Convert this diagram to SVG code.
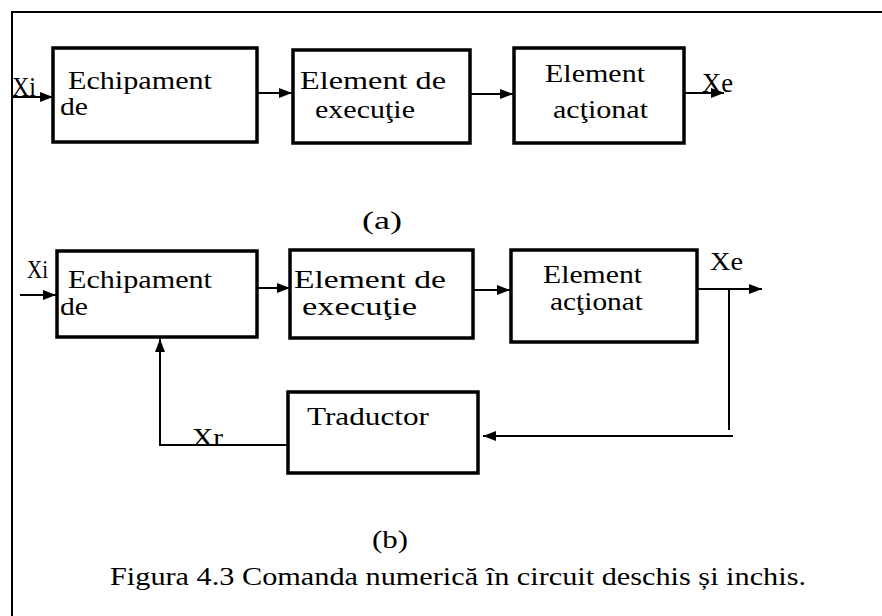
<svg xmlns="http://www.w3.org/2000/svg" width="882" height="616" viewBox="0 0 882 616">
<style>
.box{fill:#fff;stroke:#000;stroke-width:3.5}
.ln{fill:none;stroke:#000;stroke-width:2}
.t{font-family:"Liberation Serif","Times New Roman",serif;font-size:26px;fill:#000}
.s{font-family:"Liberation Serif","Times New Roman",serif;font-size:25px;fill:#000}
</style>
<defs>
<marker id="ah" markerUnits="userSpaceOnUse" markerWidth="13" markerHeight="10" refX="13" refY="5" orient="auto">
<path d="M0,0 L13,5 L0,10 z" fill="#000"/>
</marker>
</defs>
<rect width="882" height="616" fill="#fff"/>
<path class="ln" d="M12,616 L12,12 L882,12"/>

<g id="connectors">
<line class="ln" x1="12" y1="97" x2="53" y2="97" marker-end="url(#ah)"/>
<line class="ln" x1="257" y1="93" x2="292" y2="93" marker-end="url(#ah)"/>
<line class="ln" x1="470" y1="94" x2="513" y2="94" marker-end="url(#ah)"/>
<line class="ln" x1="684" y1="93" x2="724" y2="93" marker-end="url(#ah)"/>
<line class="ln" x1="20" y1="295" x2="56" y2="295" marker-end="url(#ah)"/>
<line class="ln" x1="257" y1="288" x2="290" y2="288" marker-end="url(#ah)"/>
<line class="ln" x1="473" y1="290" x2="510" y2="290" marker-end="url(#ah)"/>
<line class="ln" x1="697" y1="289" x2="762" y2="289" marker-end="url(#ah)"/>
<line class="ln" x1="729" y1="289" x2="729" y2="430"/>
<line class="ln" x1="733" y1="436" x2="483" y2="436" marker-end="url(#ah)"/>
<path class="ln" d="M288,445 L160,445 L160,339" marker-end="url(#ah)"/>
</g>

<g id="a_echipament">
<rect class="box" x="53" y="48" width="204" height="94"/>
<text class="t" x="68" y="89" textLength="144" lengthAdjust="spacingAndGlyphs">Echipament</text>
<text class="t" x="60" y="115" textLength="28" lengthAdjust="spacingAndGlyphs">de</text>
</g>
<g id="a_executie">
<rect class="box" x="293" y="50" width="177" height="93"/>
<text class="t" x="300" y="89" textLength="146" lengthAdjust="spacingAndGlyphs">Element de</text>
<text class="t" x="315" y="118" textLength="100" lengthAdjust="spacingAndGlyphs">execuţie</text>
</g>
<g id="a_actionat">
<rect class="box" x="514" y="48" width="170" height="95"/>
<text class="t" x="545" y="82" textLength="100" lengthAdjust="spacingAndGlyphs">Element</text>
<text class="t" x="553" y="118" textLength="95" lengthAdjust="spacingAndGlyphs">acţionat</text>
</g>
<text class="t" x="12" y="96" style="font-size:28px" textLength="24" lengthAdjust="spacingAndGlyphs">Xi</text>
<text class="t" x="702" y="92" style="font-size:28px" textLength="31" lengthAdjust="spacingAndGlyphs">Xe</text>
<text class="t" x="362" y="229" textLength="40" lengthAdjust="spacingAndGlyphs">(a)</text>

<g id="b_echipament">
<rect class="box" x="57" y="251" width="200" height="86"/>
<text class="t" x="68" y="288" textLength="144" lengthAdjust="spacingAndGlyphs">Echipament</text>
<text class="t" x="60" y="315" textLength="28" lengthAdjust="spacingAndGlyphs">de</text>
</g>
<g id="b_executie">
<rect class="box" x="290" y="250" width="183" height="88"/>
<text class="t" x="294" y="288" textLength="152" lengthAdjust="spacingAndGlyphs">Element de</text>
<text class="t" x="302" y="315" textLength="115" lengthAdjust="spacingAndGlyphs">execuţie</text>
</g>
<g id="b_actionat">
<rect class="box" x="511" y="250" width="186" height="92"/>
<text class="t" x="543" y="283" textLength="99" lengthAdjust="spacingAndGlyphs">Element</text>
<text class="t" x="550" y="310" textLength="93" lengthAdjust="spacingAndGlyphs">acţionat</text>
</g>
<g id="b_traductor">
<rect class="box" x="288" y="392" width="190" height="81"/>
<text class="t" x="307" y="425" textLength="122" lengthAdjust="spacingAndGlyphs">Traductor</text>
</g>
<text class="s" x="27" y="278" textLength="21" lengthAdjust="spacingAndGlyphs">Xi</text>
<text class="s" x="710" y="270" textLength="33" lengthAdjust="spacingAndGlyphs">Xe</text>
<text class="s" x="192" y="446" textLength="31" lengthAdjust="spacingAndGlyphs">Xr</text>
<text class="t" x="372" y="548" textLength="36" lengthAdjust="spacingAndGlyphs">(b)</text>
<text class="s" x="110" y="585" textLength="696" lengthAdjust="spacingAndGlyphs">Figura 4.3  Comanda numerică în circuit deschis și inchis.</text>
</svg>
